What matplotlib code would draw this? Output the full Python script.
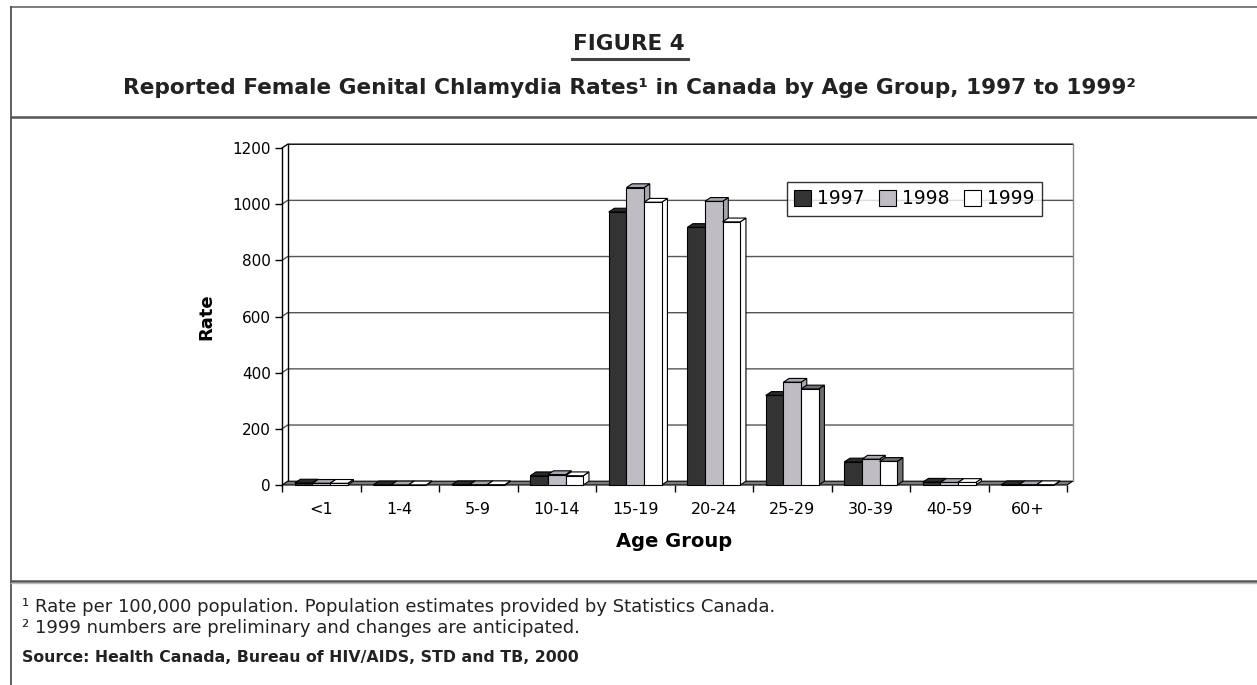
import numpy as np
import matplotlib.pyplot as plt
from matplotlib.patches import Polygon
from matplotlib.lines import Line2D

age_groups = ["<1", "1-4", "5-9", "10-14", "15-19", "20-24", "25-29", "30-39", "40-59", "60+"]
years = ["1997", "1998", "1999"]
rate_1997 = [7, 0.5, 1, 33, 972, 917, 319, 82, 10, 1]
rate_1998 = [6, 0.5, 1, 37, 1059, 1010, 366, 92, 9, 1]
rate_1999 = [6, 0.5, 1, 33, 1007, 937, 342, 84, 9, 1]
yticks = [0, 200, 400, 600, 800, 1000, 1200]

W, H = 1257, 685
front = ["#333333", "#c0bcc4", "#ffffff"]
side = ["#2a2a2a", "#aaa6ae", "#ffffff"]

fig = plt.figure(figsize=(W / 100, H / 100), dpi=100)
plt.rcParams["font.family"] = "DejaVu Sans"


def fx(px):
    return px / W


def fy(py):
    return 1 - py / H


# frame lines of the figure box
def fline(x0, y0, x1, y1, color="#444444", lw=1.2):
    fig.add_artist(Line2D([fx(x0), fx(x1)], [fy(y0), fy(y1)], color=color, lw=lw,
                          transform=fig.transFigure))


fline(11, 7, 1257, 7, color="#666666")
fline(11, 7, 11, 685)
fline(11, 117, 1257, 117, lw=1.8, color="#555555")
fline(11, 581, 1257, 581, lw=1.8, color="#555555")
fline(11, 583, 1257, 583, lw=1.0, color="#bbbbbb")
fline(572, 59, 688, 59, lw=2.2, color="#444444")

fig.text(fx(629), fy(44), "FIGURE 4", ha="center", va="center", fontsize=15.5,
         fontweight="bold", color="#222222")
fig.text(fx(629), fy(88), "Reported Female Genital Chlamydia Rates\u00b9 in Canada by Age Group, 1997 to 1999\u00b2",
         ha="center", va="center", fontsize=15.6, fontweight="bold", color="#222222")
fig.text(fx(22), fy(607), "\u00b9 Rate per 100,000 population. Population estimates provided by Statistics Canada.",
         ha="left", va="center", fontsize=13, color="#222222")
fig.text(fx(22), fy(628), "\u00b2 1999 numbers are preliminary and changes are anticipated.",
         ha="left", va="center", fontsize=13, color="#222222")
fig.text(fx(22), fy(657), "Source: Health Canada, Bureau of HIV/AIDS, STD and TB, 2000",
         ha="left", va="center", fontsize=11.3, fontweight="bold", color="#222222")

x0, x1, ytop, ybot = 282, 1067, 148, 485
ax = fig.add_axes([fx(x0), fy(ybot), fx(x1 - x0), (ybot - ytop) / H])
ax.set_xlim(-0.5, 9.5)
ax.set_ylim(0, 1200)
ax.patch.set_visible(False)
for s in ["top", "right", "bottom"]:
    ax.spines[s].set_visible(False)
ax.spines["left"].set_linewidth(1.0)

# 3d depth offset in data units
dx = 5.7 / (x1 - x0) * 10
dy = 3.8 / (ybot - ytop) * 1200

# back wall and gridlines
for v in yticks[1:]:
    c = "black" if v == 1200 else "#555555"
    ax.plot([-0.5, -0.5 + dx, 9.5 + dx], [v, v + dy, v + dy], color=c, lw=1.0,
            clip_on=False, zorder=1)
ax.plot([-0.5 + dx, -0.5 + dx], [dy, 1200 + dy], color="black", lw=1.0, clip_on=False, zorder=1)
ax.plot([9.5 + dx, 9.5 + dx], [dy, 1200 + dy], color="#888888", lw=1.0, clip_on=False, zorder=1)
ax.add_patch(Polygon([(-0.5, 0), (9.5, 0), (9.5 + dx, dy), (-0.5 + dx, dy)], closed=True,
                     facecolor="#7a7a7a", edgecolor="black", lw=0.8, clip_on=False, zorder=2))

x = np.arange(len(age_groups))
w = 0.225
series = [rate_1997, rate_1998, rate_1999]
for j, vals in enumerate(series):
    bars = ax.bar(x + (j - 1) * w, vals, w, color=front[j], edgecolor="black", lw=0.8,
                  label=years[j], clip_on=False)
    for i, b in enumerate(bars):
        z = 3 + (i * 3 + j) * 0.01
        b.set_zorder(z + 0.005)
        bx0 = b.get_x()
        bx1 = bx0 + b.get_width()
        h = b.get_height()
        sc = side[j]
        if j == 2 and i in (6, 7):
            sc = "#6e6e6e"
        ax.add_patch(Polygon([(bx1, 0), (bx1 + dx, dy), (bx1 + dx, h + dy), (bx1, h)], closed=True,
                             facecolor=sc, edgecolor="black", lw=0.8, clip_on=False, zorder=z))
        ax.add_patch(Polygon([(bx0, h), (bx1, h), (bx1 + dx, h + dy), (bx0 + dx, h + dy)], closed=True,
                             facecolor=sc, edgecolor="black", lw=0.8, clip_on=False, zorder=z))

ax.set_yticks(yticks)
ax.set_yticklabels([str(v) for v in yticks])
ax.tick_params(axis="y", direction="out", length=5, width=1, pad=3, labelsize=11)
ax.set_xticks(x)
ax.set_xticklabels(age_groups)
ax.tick_params(axis="x", which="major", length=0, pad=12, labelsize=11.5)
ax.set_xticks(np.arange(-0.5, 10, 1), minor=True)
ax.tick_params(axis="x", which="minor", direction="out", length=5, width=1)

ax.set_ylabel("Rate", fontsize=13, fontweight="bold", labelpad=12)
ax.set_xlabel("Age Group", fontsize=14, fontweight="bold", labelpad=11)

leg = ax.legend(loc="center", bbox_to_anchor=(fx(914.5), fy(199)), bbox_transform=fig.transFigure,
                ncol=3, fontsize=13.5, frameon=True, fancybox=False, edgecolor="black",
                handlelength=0.9, handleheight=0.9, handletextpad=0.3, columnspacing=0.8,
                borderpad=0.4)
leg.get_frame().set_linewidth(1.0)
leg.set_zorder(10)

fig.savefig("out.png", dpi=100)
